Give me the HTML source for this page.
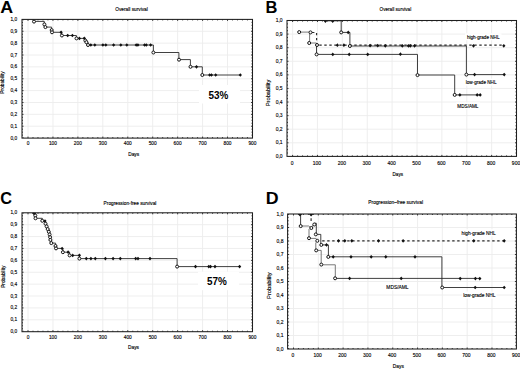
<!DOCTYPE html>
<html><head><meta charset="utf-8"><title>Survival curves</title>
<style>html,body{margin:0;padding:0;background:#fff;width:520px;height:370px;overflow:hidden}svg{display:block}text{font-family:"Liberation Sans",sans-serif}</style>
</head><body>
<svg width="520" height="370" viewBox="0 0 520 370" font-family='"Liberation Sans", sans-serif'><rect width="520" height="370" fill="#fff"/><path d="M22.00 126.23H252.50M22.00 114.36H252.50M22.00 102.49H252.50M22.00 90.62H252.50M22.00 78.75H252.50M22.00 66.88H252.50M22.00 55.01H252.50M22.00 43.14H252.50M22.00 31.27H252.50M28.00 19.40V138.10M52.94 19.40V138.10M77.88 19.40V138.10M102.82 19.40V138.10M127.76 19.40V138.10M152.70 19.40V138.10M177.64 19.40V138.10M202.58 19.40V138.10M227.52 19.40V138.10" stroke="#ececec" stroke-width="0.9" fill="none"/><rect x="199" y="85" width="41" height="18.5" fill="#fff"/><clipPath id="cA"><rect x="22" y="19.4" width="230.5" height="118.69999999999999"/></clipPath><g clip-path="url(#cA)"><path d="M34 21.4H44.3V24.4H45.3V27.1H51.6V30.1H52.0V32.3H61.6V35.5H76.4V38.4H85.3V40.6H86.4V42.2H88.0V45.0H153.4V52.5H178.9V59.6H190.4V66.8H202.3V75.0H240.3V75.0" stroke="#2a2a2a" stroke-width="0.9" fill="none" /><path d="M59.47 32.30L61.10 30.45L62.73 32.30L61.10 34.15Z" fill="#111"/><path d="M66.07 35.50L67.70 33.65L69.33 35.50L67.70 37.35Z" fill="#111"/><path d="M70.77 35.50L72.40 33.65L74.03 35.50L72.40 37.35Z" fill="#111"/><path d="M77.77 38.40L79.40 36.55L81.03 38.40L79.40 40.25Z" fill="#111"/><path d="M82.67 38.30L84.30 36.45L85.93 38.30L84.30 40.15Z" fill="#111"/><path d="M89.17 45.00L90.80 43.15L92.43 45.00L90.80 46.85Z" fill="#111"/><path d="M93.17 45.00L94.80 43.15L96.43 45.00L94.80 46.85Z" fill="#111"/><path d="M101.27 45.00L102.90 43.15L104.53 45.00L102.90 46.85Z" fill="#111"/><path d="M104.17 45.00L105.80 43.15L107.43 45.00L105.80 46.85Z" fill="#111"/><path d="M111.97 45.00L113.60 43.15L115.23 45.00L113.60 46.85Z" fill="#111"/><path d="M119.17 45.00L120.80 43.15L122.43 45.00L120.80 46.85Z" fill="#111"/><path d="M125.17 45.00L126.80 43.15L128.43 45.00L126.80 46.85Z" fill="#111"/><path d="M134.57 45.00L136.20 43.15L137.83 45.00L136.20 46.85Z" fill="#111"/><path d="M136.27 45.00L137.90 43.15L139.53 45.00L137.90 46.85Z" fill="#111"/><path d="M142.97 45.00L144.60 43.15L146.23 45.00L144.60 46.85Z" fill="#111"/><path d="M144.67 45.00L146.30 43.15L147.93 45.00L146.30 46.85Z" fill="#111"/><path d="M148.97 45.00L150.60 43.15L152.23 45.00L150.60 46.85Z" fill="#111"/><path d="M194.87 66.80L196.50 64.95L198.13 66.80L196.50 68.65Z" fill="#111"/><path d="M208.07 75.00L209.70 73.15L211.33 75.00L209.70 76.85Z" fill="#111"/><path d="M209.87 75.00L211.50 73.15L213.13 75.00L211.50 76.85Z" fill="#111"/><path d="M214.07 75.00L215.70 73.15L217.33 75.00L215.70 76.85Z" fill="#111"/><path d="M238.67 75.00L240.30 73.15L241.93 75.00L240.30 76.85Z" fill="#111"/><circle cx="34.00" cy="21.60" r="1.5" fill="#fff" stroke="#151515" stroke-width="1.0"/><circle cx="44.40" cy="24.40" r="1.5" fill="#fff" stroke="#151515" stroke-width="1.0"/><circle cx="45.40" cy="27.10" r="1.5" fill="#fff" stroke="#151515" stroke-width="1.0"/><circle cx="51.70" cy="30.10" r="1.5" fill="#fff" stroke="#151515" stroke-width="1.0"/><circle cx="52.00" cy="32.30" r="1.5" fill="#fff" stroke="#151515" stroke-width="1.0"/><circle cx="61.90" cy="35.50" r="1.5" fill="#fff" stroke="#151515" stroke-width="1.0"/><circle cx="76.50" cy="38.40" r="1.5" fill="#fff" stroke="#151515" stroke-width="1.0"/><circle cx="85.40" cy="40.60" r="1.5" fill="#fff" stroke="#151515" stroke-width="1.0"/><circle cx="86.40" cy="42.20" r="1.5" fill="#fff" stroke="#151515" stroke-width="1.0"/><circle cx="88.00" cy="45.00" r="1.5" fill="#fff" stroke="#151515" stroke-width="1.0"/><circle cx="153.40" cy="52.50" r="1.5" fill="#fff" stroke="#151515" stroke-width="1.0"/><circle cx="179.00" cy="59.70" r="1.5" fill="#fff" stroke="#151515" stroke-width="1.0"/><circle cx="190.50" cy="66.80" r="1.5" fill="#fff" stroke="#151515" stroke-width="1.0"/><circle cx="202.30" cy="75.00" r="1.5" fill="#fff" stroke="#151515" stroke-width="1.0"/></g><rect x="22.00" y="19.40" width="230.50" height="118.70" fill="none" stroke="#1e1e1e" stroke-width="1.05"/><path d="M23.01 138.10v-1.00M23.01 19.40v1.00M28.00 138.10v-1.50M28.00 19.40v1.50M32.99 138.10v-1.00M32.99 19.40v1.00M37.98 138.10v-1.00M37.98 19.40v1.00M42.96 138.10v-1.00M42.96 19.40v1.00M47.95 138.10v-1.00M47.95 19.40v1.00M52.94 138.10v-1.50M52.94 19.40v1.50M57.93 138.10v-1.00M57.93 19.40v1.00M62.92 138.10v-1.00M62.92 19.40v1.00M67.90 138.10v-1.00M67.90 19.40v1.00M72.89 138.10v-1.00M72.89 19.40v1.00M77.88 138.10v-1.50M77.88 19.40v1.50M82.87 138.10v-1.00M82.87 19.40v1.00M87.86 138.10v-1.00M87.86 19.40v1.00M92.84 138.10v-1.00M92.84 19.40v1.00M97.83 138.10v-1.00M97.83 19.40v1.00M102.82 138.10v-1.50M102.82 19.40v1.50M107.81 138.10v-1.00M107.81 19.40v1.00M112.80 138.10v-1.00M112.80 19.40v1.00M117.78 138.10v-1.00M117.78 19.40v1.00M122.77 138.10v-1.00M122.77 19.40v1.00M127.76 138.10v-1.50M127.76 19.40v1.50M132.75 138.10v-1.00M132.75 19.40v1.00M137.74 138.10v-1.00M137.74 19.40v1.00M142.72 138.10v-1.00M142.72 19.40v1.00M147.71 138.10v-1.00M147.71 19.40v1.00M152.70 138.10v-1.50M152.70 19.40v1.50M157.69 138.10v-1.00M157.69 19.40v1.00M162.68 138.10v-1.00M162.68 19.40v1.00M167.66 138.10v-1.00M167.66 19.40v1.00M172.65 138.10v-1.00M172.65 19.40v1.00M177.64 138.10v-1.50M177.64 19.40v1.50M182.63 138.10v-1.00M182.63 19.40v1.00M187.62 138.10v-1.00M187.62 19.40v1.00M192.60 138.10v-1.00M192.60 19.40v1.00M197.59 138.10v-1.00M197.59 19.40v1.00M202.58 138.10v-1.50M202.58 19.40v1.50M207.57 138.10v-1.00M207.57 19.40v1.00M212.56 138.10v-1.00M212.56 19.40v1.00M217.54 138.10v-1.00M217.54 19.40v1.00M222.53 138.10v-1.00M222.53 19.40v1.00M227.52 138.10v-1.50M227.52 19.40v1.50M232.51 138.10v-1.00M232.51 19.40v1.00M237.50 138.10v-1.00M237.50 19.40v1.00M242.48 138.10v-1.00M242.48 19.40v1.00M247.47 138.10v-1.00M247.47 19.40v1.00M22.00 135.13h1.00M252.50 135.13h-1.00M22.00 132.16h1.00M252.50 132.16h-1.00M22.00 129.20h1.00M252.50 129.20h-1.00M22.00 126.23h1.50M252.50 126.23h-1.50M22.00 123.26h1.00M252.50 123.26h-1.00M22.00 120.30h1.00M252.50 120.30h-1.00M22.00 117.33h1.00M252.50 117.33h-1.00M22.00 114.36h1.50M252.50 114.36h-1.50M22.00 111.39h1.00M252.50 111.39h-1.00M22.00 108.42h1.00M252.50 108.42h-1.00M22.00 105.46h1.00M252.50 105.46h-1.00M22.00 102.49h1.50M252.50 102.49h-1.50M22.00 99.52h1.00M252.50 99.52h-1.00M22.00 96.56h1.00M252.50 96.56h-1.00M22.00 93.59h1.00M252.50 93.59h-1.00M22.00 90.62h1.50M252.50 90.62h-1.50M22.00 87.65h1.00M252.50 87.65h-1.00M22.00 84.69h1.00M252.50 84.69h-1.00M22.00 81.72h1.00M252.50 81.72h-1.00M22.00 78.75h1.50M252.50 78.75h-1.50M22.00 75.78h1.00M252.50 75.78h-1.00M22.00 72.81h1.00M252.50 72.81h-1.00M22.00 69.85h1.00M252.50 69.85h-1.00M22.00 66.88h1.50M252.50 66.88h-1.50M22.00 63.91h1.00M252.50 63.91h-1.00M22.00 60.94h1.00M252.50 60.94h-1.00M22.00 57.98h1.00M252.50 57.98h-1.00M22.00 55.01h1.50M252.50 55.01h-1.50M22.00 52.04h1.00M252.50 52.04h-1.00M22.00 49.08h1.00M252.50 49.08h-1.00M22.00 46.11h1.00M252.50 46.11h-1.00M22.00 43.14h1.50M252.50 43.14h-1.50M22.00 40.17h1.00M252.50 40.17h-1.00M22.00 37.21h1.00M252.50 37.21h-1.00M22.00 34.24h1.00M252.50 34.24h-1.00M22.00 31.27h1.50M252.50 31.27h-1.50M22.00 28.30h1.00M252.50 28.30h-1.00M22.00 25.34h1.00M252.50 25.34h-1.00M22.00 22.37h1.00M252.50 22.37h-1.00" stroke="#222" stroke-width="0.9" fill="none"/><text transform="translate(17.10,139.59) scale(0.86,1)" font-size="5.6" text-anchor="end" font-weight="normal" fill="#000" stroke="#000" stroke-width="0.14">0,0</text><text transform="translate(17.10,127.72) scale(0.86,1)" font-size="5.6" text-anchor="end" font-weight="normal" fill="#000" stroke="#000" stroke-width="0.14">0,1</text><text transform="translate(17.10,115.85) scale(0.86,1)" font-size="5.6" text-anchor="end" font-weight="normal" fill="#000" stroke="#000" stroke-width="0.14">0,2</text><text transform="translate(17.10,103.98) scale(0.86,1)" font-size="5.6" text-anchor="end" font-weight="normal" fill="#000" stroke="#000" stroke-width="0.14">0,3</text><text transform="translate(17.10,92.11) scale(0.86,1)" font-size="5.6" text-anchor="end" font-weight="normal" fill="#000" stroke="#000" stroke-width="0.14">0,4</text><text transform="translate(17.10,80.24) scale(0.86,1)" font-size="5.6" text-anchor="end" font-weight="normal" fill="#000" stroke="#000" stroke-width="0.14">0,5</text><text transform="translate(17.10,68.37) scale(0.86,1)" font-size="5.6" text-anchor="end" font-weight="normal" fill="#000" stroke="#000" stroke-width="0.14">0,6</text><text transform="translate(17.10,56.50) scale(0.86,1)" font-size="5.6" text-anchor="end" font-weight="normal" fill="#000" stroke="#000" stroke-width="0.14">0,7</text><text transform="translate(17.10,44.63) scale(0.86,1)" font-size="5.6" text-anchor="end" font-weight="normal" fill="#000" stroke="#000" stroke-width="0.14">0,8</text><text transform="translate(17.10,32.76) scale(0.86,1)" font-size="5.6" text-anchor="end" font-weight="normal" fill="#000" stroke="#000" stroke-width="0.14">0,9</text><text transform="translate(17.10,20.89) scale(0.86,1)" font-size="5.6" text-anchor="end" font-weight="normal" fill="#000" stroke="#000" stroke-width="0.14">1,0</text><text transform="translate(28.00,145.39) scale(0.86,1)" font-size="5.6" text-anchor="middle" font-weight="normal" fill="#000" stroke="#000" stroke-width="0.14">0</text><text transform="translate(52.94,145.39) scale(0.86,1)" font-size="5.6" text-anchor="middle" font-weight="normal" fill="#000" stroke="#000" stroke-width="0.14">100</text><text transform="translate(77.88,145.39) scale(0.86,1)" font-size="5.6" text-anchor="middle" font-weight="normal" fill="#000" stroke="#000" stroke-width="0.14">200</text><text transform="translate(102.82,145.39) scale(0.86,1)" font-size="5.6" text-anchor="middle" font-weight="normal" fill="#000" stroke="#000" stroke-width="0.14">300</text><text transform="translate(127.76,145.39) scale(0.86,1)" font-size="5.6" text-anchor="middle" font-weight="normal" fill="#000" stroke="#000" stroke-width="0.14">400</text><text transform="translate(152.70,145.39) scale(0.86,1)" font-size="5.6" text-anchor="middle" font-weight="normal" fill="#000" stroke="#000" stroke-width="0.14">500</text><text transform="translate(177.64,145.39) scale(0.86,1)" font-size="5.6" text-anchor="middle" font-weight="normal" fill="#000" stroke="#000" stroke-width="0.14">600</text><text transform="translate(202.58,145.39) scale(0.86,1)" font-size="5.6" text-anchor="middle" font-weight="normal" fill="#000" stroke="#000" stroke-width="0.14">700</text><text transform="translate(227.52,145.39) scale(0.86,1)" font-size="5.6" text-anchor="middle" font-weight="normal" fill="#000" stroke="#000" stroke-width="0.14">800</text><text transform="translate(252.46,145.39) scale(0.86,1)" font-size="5.6" text-anchor="middle" font-weight="normal" fill="#000" stroke="#000" stroke-width="0.14">900</text><text transform="translate(133.70,155.95) scale(0.92,1)" font-size="5.2" text-anchor="middle" font-weight="normal" fill="#000" stroke="#000" stroke-width="0.14">Days</text><text transform="translate(2.40,82.50) rotate(-90) scale(0.92,1)" x="0" y="1.85" font-size="5.2" text-anchor="middle" fill="#000" stroke="#000" stroke-width="0.14">Probability</text><text transform="translate(131.50,10.85) scale(0.92,1)" font-size="5.2" text-anchor="middle" font-weight="normal" fill="#000" stroke="#000" stroke-width="0.14">Overall survival</text><text transform="translate(0.2,13.2) scale(1.06,1)" font-size="16.8" font-weight="bold" fill="#000">A</text><text transform="translate(218.40,98.63) scale(0.92,1)" font-size="10.8" text-anchor="middle" font-weight="bold" fill="#000" >53%</text><path d="M287.00 142.81H516.50M287.00 129.22H516.50M287.00 115.63H516.50M287.00 102.04H516.50M287.00 88.45H516.50M287.00 74.86H516.50M287.00 61.27H516.50M287.00 47.68H516.50M287.00 34.09H516.50M292.60 20.50V156.40M317.48 20.50V156.40M342.36 20.50V156.40M367.24 20.50V156.40M392.12 20.50V156.40M417.00 20.50V156.40M441.88 20.50V156.40M466.76 20.50V156.40M491.64 20.50V156.40" stroke="#ececec" stroke-width="0.9" fill="none"/><rect x="465" y="33.3" width="36.5" height="7" fill="#fff"/><rect x="464" y="78.6" width="34.5" height="7" fill="#fff"/><rect x="456" y="102.4" width="24" height="6.8" fill="#fff"/><clipPath id="cB"><rect x="287" y="20.5" width="229.5" height="135.9"/></clipPath><g clip-path="url(#cB)"><path d="M312.0 32.5H316.6V45.2H503.8" stroke="#2a2a2a" stroke-width="1.2" fill="none" stroke-dasharray="2.4 2.6"/><path d="M325.4 20.8H341.2V32.4H349.9V46.0H466.4V74.6H504.9" stroke="#2a2a2a" stroke-width="0.9" fill="none" /><path d="M316.5 45.5V54.4H417.5V75.0H454.7V94.9H480.6" stroke="#2a2a2a" stroke-width="0.9" fill="none" /><path d="M299.2 32.1H309.6V43.0H316.5V45.5" stroke="#6a6a6a" stroke-width="0.9" fill="none" /><path d="M335.77 45.20L337.40 43.35L339.03 45.20L337.40 47.05Z" fill="#111"/><path d="M342.27 45.20L343.90 43.35L345.53 45.20L343.90 47.05Z" fill="#111"/><path d="M368.47 45.60L370.10 43.75L371.73 45.60L370.10 47.45Z" fill="#111"/><path d="M376.07 45.60L377.70 43.75L379.33 45.60L377.70 47.45Z" fill="#111"/><path d="M383.67 45.80L385.30 43.95L386.93 45.80L385.30 47.65Z" fill="#111"/><path d="M400.67 45.80L402.30 43.95L403.93 45.80L402.30 47.65Z" fill="#111"/><path d="M406.77 45.80L408.40 43.95L410.03 45.80L408.40 47.65Z" fill="#111"/><path d="M408.67 45.80L410.30 43.95L411.93 45.80L410.30 47.65Z" fill="#111"/><path d="M412.97 45.80L414.60 43.95L416.23 45.80L414.60 47.65Z" fill="#111"/><path d="M471.87 45.80L473.50 43.95L475.13 45.80L473.50 47.65Z" fill="#111"/><path d="M502.17 45.80L503.80 43.95L505.43 45.80L503.80 47.65Z" fill="#111"/><circle cx="310.50" cy="32.40" r="1.5" fill="#fff" stroke="#151515" stroke-width="1.0"/><circle cx="317.00" cy="45.00" r="1.5" fill="#fff" stroke="#151515" stroke-width="1.0"/><path d="M323.38 20.60L325.40 18.30L327.42 20.60L325.40 22.90Z" fill="#111"/><path d="M330.68 20.60L332.70 18.30L334.72 20.60L332.70 22.90Z" fill="#111"/><path d="M346.57 32.40L348.20 30.55L349.83 32.40L348.20 34.25Z" fill="#111"/><path d="M472.97 74.60L474.60 72.75L476.23 74.60L474.60 76.45Z" fill="#111"/><path d="M502.57 74.60L504.20 72.75L505.83 74.60L504.20 76.45Z" fill="#111"/><circle cx="341.20" cy="32.40" r="1.5" fill="#fff" stroke="#151515" stroke-width="1.0"/><circle cx="349.90" cy="46.00" r="1.5" fill="#fff" stroke="#151515" stroke-width="1.0"/><circle cx="466.40" cy="74.60" r="1.5" fill="#fff" stroke="#151515" stroke-width="1.0"/><path d="M331.17 54.40L332.80 52.55L334.43 54.40L332.80 56.25Z" fill="#111"/><path d="M347.57 54.40L349.20 52.55L350.83 54.40L349.20 56.25Z" fill="#111"/><path d="M366.07 54.40L367.70 52.55L369.33 54.40L367.70 56.25Z" fill="#111"/><path d="M398.77 54.20L400.40 52.35L402.03 54.20L400.40 56.05Z" fill="#111"/><path d="M458.27 94.90L459.90 93.05L461.53 94.90L459.90 96.75Z" fill="#111"/><path d="M475.57 94.90L477.20 93.05L478.83 94.90L477.20 96.75Z" fill="#111"/><path d="M478.57 94.90L480.20 93.05L481.83 94.90L480.20 96.75Z" fill="#111"/><circle cx="299.20" cy="32.10" r="1.5" fill="#fff" stroke="#151515" stroke-width="1.0"/><circle cx="309.20" cy="43.00" r="1.5" fill="#fff" stroke="#151515" stroke-width="1.0"/><circle cx="316.60" cy="54.40" r="1.5" fill="#fff" stroke="#151515" stroke-width="1.0"/><circle cx="417.50" cy="75.10" r="1.5" fill="#fff" stroke="#151515" stroke-width="1.0"/><circle cx="454.70" cy="94.90" r="1.5" fill="#fff" stroke="#151515" stroke-width="1.0"/></g><rect x="287.00" y="20.50" width="229.50" height="135.90" fill="none" stroke="#1e1e1e" stroke-width="1.05"/><path d="M292.60 156.40v-1.50M292.60 20.50v1.50M297.58 156.40v-1.00M297.58 20.50v1.00M302.55 156.40v-1.00M302.55 20.50v1.00M307.53 156.40v-1.00M307.53 20.50v1.00M312.50 156.40v-1.00M312.50 20.50v1.00M317.48 156.40v-1.50M317.48 20.50v1.50M322.46 156.40v-1.00M322.46 20.50v1.00M327.43 156.40v-1.00M327.43 20.50v1.00M332.41 156.40v-1.00M332.41 20.50v1.00M337.38 156.40v-1.00M337.38 20.50v1.00M342.36 156.40v-1.50M342.36 20.50v1.50M347.34 156.40v-1.00M347.34 20.50v1.00M352.31 156.40v-1.00M352.31 20.50v1.00M357.29 156.40v-1.00M357.29 20.50v1.00M362.26 156.40v-1.00M362.26 20.50v1.00M367.24 156.40v-1.50M367.24 20.50v1.50M372.22 156.40v-1.00M372.22 20.50v1.00M377.19 156.40v-1.00M377.19 20.50v1.00M382.17 156.40v-1.00M382.17 20.50v1.00M387.14 156.40v-1.00M387.14 20.50v1.00M392.12 156.40v-1.50M392.12 20.50v1.50M397.10 156.40v-1.00M397.10 20.50v1.00M402.07 156.40v-1.00M402.07 20.50v1.00M407.05 156.40v-1.00M407.05 20.50v1.00M412.02 156.40v-1.00M412.02 20.50v1.00M417.00 156.40v-1.50M417.00 20.50v1.50M421.98 156.40v-1.00M421.98 20.50v1.00M426.95 156.40v-1.00M426.95 20.50v1.00M431.93 156.40v-1.00M431.93 20.50v1.00M436.90 156.40v-1.00M436.90 20.50v1.00M441.88 156.40v-1.50M441.88 20.50v1.50M446.86 156.40v-1.00M446.86 20.50v1.00M451.83 156.40v-1.00M451.83 20.50v1.00M456.81 156.40v-1.00M456.81 20.50v1.00M461.78 156.40v-1.00M461.78 20.50v1.00M466.76 156.40v-1.50M466.76 20.50v1.50M471.74 156.40v-1.00M471.74 20.50v1.00M476.71 156.40v-1.00M476.71 20.50v1.00M481.69 156.40v-1.00M481.69 20.50v1.00M486.66 156.40v-1.00M486.66 20.50v1.00M491.64 156.40v-1.50M491.64 20.50v1.50M496.62 156.40v-1.00M496.62 20.50v1.00M501.59 156.40v-1.00M501.59 20.50v1.00M506.57 156.40v-1.00M506.57 20.50v1.00M511.54 156.40v-1.00M511.54 20.50v1.00M287.00 153.00h1.00M516.50 153.00h-1.00M287.00 149.61h1.00M516.50 149.61h-1.00M287.00 146.21h1.00M516.50 146.21h-1.00M287.00 142.81h1.50M516.50 142.81h-1.50M287.00 139.41h1.00M516.50 139.41h-1.00M287.00 136.02h1.00M516.50 136.02h-1.00M287.00 132.62h1.00M516.50 132.62h-1.00M287.00 129.22h1.50M516.50 129.22h-1.50M287.00 125.82h1.00M516.50 125.82h-1.00M287.00 122.43h1.00M516.50 122.43h-1.00M287.00 119.03h1.00M516.50 119.03h-1.00M287.00 115.63h1.50M516.50 115.63h-1.50M287.00 112.23h1.00M516.50 112.23h-1.00M287.00 108.84h1.00M516.50 108.84h-1.00M287.00 105.44h1.00M516.50 105.44h-1.00M287.00 102.04h1.50M516.50 102.04h-1.50M287.00 98.64h1.00M516.50 98.64h-1.00M287.00 95.25h1.00M516.50 95.25h-1.00M287.00 91.85h1.00M516.50 91.85h-1.00M287.00 88.45h1.50M516.50 88.45h-1.50M287.00 85.05h1.00M516.50 85.05h-1.00M287.00 81.66h1.00M516.50 81.66h-1.00M287.00 78.26h1.00M516.50 78.26h-1.00M287.00 74.86h1.50M516.50 74.86h-1.50M287.00 71.46h1.00M516.50 71.46h-1.00M287.00 68.06h1.00M516.50 68.06h-1.00M287.00 64.67h1.00M516.50 64.67h-1.00M287.00 61.27h1.50M516.50 61.27h-1.50M287.00 57.87h1.00M516.50 57.87h-1.00M287.00 54.47h1.00M516.50 54.47h-1.00M287.00 51.08h1.00M516.50 51.08h-1.00M287.00 47.68h1.50M516.50 47.68h-1.50M287.00 44.28h1.00M516.50 44.28h-1.00M287.00 40.89h1.00M516.50 40.89h-1.00M287.00 37.49h1.00M516.50 37.49h-1.00M287.00 34.09h1.50M516.50 34.09h-1.50M287.00 30.69h1.00M516.50 30.69h-1.00M287.00 27.30h1.00M516.50 27.30h-1.00M287.00 23.90h1.00M516.50 23.90h-1.00" stroke="#222" stroke-width="0.9" fill="none"/><text transform="translate(282.60,157.96) scale(0.86,1)" font-size="5.8" text-anchor="end" font-weight="normal" fill="#000" stroke="#000" stroke-width="0.14">0,0</text><text transform="translate(282.60,144.37) scale(0.86,1)" font-size="5.8" text-anchor="end" font-weight="normal" fill="#000" stroke="#000" stroke-width="0.14">0,1</text><text transform="translate(282.60,130.78) scale(0.86,1)" font-size="5.8" text-anchor="end" font-weight="normal" fill="#000" stroke="#000" stroke-width="0.14">0,2</text><text transform="translate(282.60,117.19) scale(0.86,1)" font-size="5.8" text-anchor="end" font-weight="normal" fill="#000" stroke="#000" stroke-width="0.14">0,3</text><text transform="translate(282.60,103.60) scale(0.86,1)" font-size="5.8" text-anchor="end" font-weight="normal" fill="#000" stroke="#000" stroke-width="0.14">0,4</text><text transform="translate(282.60,90.01) scale(0.86,1)" font-size="5.8" text-anchor="end" font-weight="normal" fill="#000" stroke="#000" stroke-width="0.14">0,5</text><text transform="translate(282.60,76.42) scale(0.86,1)" font-size="5.8" text-anchor="end" font-weight="normal" fill="#000" stroke="#000" stroke-width="0.14">0,6</text><text transform="translate(282.60,62.83) scale(0.86,1)" font-size="5.8" text-anchor="end" font-weight="normal" fill="#000" stroke="#000" stroke-width="0.14">0,7</text><text transform="translate(282.60,49.24) scale(0.86,1)" font-size="5.8" text-anchor="end" font-weight="normal" fill="#000" stroke="#000" stroke-width="0.14">0,8</text><text transform="translate(282.60,35.65) scale(0.86,1)" font-size="5.8" text-anchor="end" font-weight="normal" fill="#000" stroke="#000" stroke-width="0.14">0,9</text><text transform="translate(282.60,22.06) scale(0.86,1)" font-size="5.8" text-anchor="end" font-weight="normal" fill="#000" stroke="#000" stroke-width="0.14">1,0</text><text transform="translate(292.10,164.96) scale(0.86,1)" font-size="5.8" text-anchor="middle" font-weight="normal" fill="#000" stroke="#000" stroke-width="0.14">0</text><text transform="translate(316.98,164.96) scale(0.86,1)" font-size="5.8" text-anchor="middle" font-weight="normal" fill="#000" stroke="#000" stroke-width="0.14">100</text><text transform="translate(341.86,164.96) scale(0.86,1)" font-size="5.8" text-anchor="middle" font-weight="normal" fill="#000" stroke="#000" stroke-width="0.14">200</text><text transform="translate(366.74,164.96) scale(0.86,1)" font-size="5.8" text-anchor="middle" font-weight="normal" fill="#000" stroke="#000" stroke-width="0.14">300</text><text transform="translate(391.62,164.96) scale(0.86,1)" font-size="5.8" text-anchor="middle" font-weight="normal" fill="#000" stroke="#000" stroke-width="0.14">400</text><text transform="translate(416.50,164.96) scale(0.86,1)" font-size="5.8" text-anchor="middle" font-weight="normal" fill="#000" stroke="#000" stroke-width="0.14">500</text><text transform="translate(441.38,164.96) scale(0.86,1)" font-size="5.8" text-anchor="middle" font-weight="normal" fill="#000" stroke="#000" stroke-width="0.14">600</text><text transform="translate(466.26,164.96) scale(0.86,1)" font-size="5.8" text-anchor="middle" font-weight="normal" fill="#000" stroke="#000" stroke-width="0.14">700</text><text transform="translate(491.14,164.96) scale(0.86,1)" font-size="5.8" text-anchor="middle" font-weight="normal" fill="#000" stroke="#000" stroke-width="0.14">800</text><text transform="translate(516.02,164.96) scale(0.86,1)" font-size="5.8" text-anchor="middle" font-weight="normal" fill="#000" stroke="#000" stroke-width="0.14">900</text><text transform="translate(397.80,176.42) scale(0.86,1)" font-size="5.4" text-anchor="middle" font-weight="normal" fill="#000" stroke="#000" stroke-width="0.14">Days</text><text transform="translate(267.80,92.90) rotate(-90) scale(1.0,1)" x="0" y="2.02" font-size="5.7" text-anchor="middle" fill="#000" stroke="#000" stroke-width="0.14">Probability</text><text transform="translate(395.40,10.82) scale(0.86,1)" font-size="5.4" text-anchor="middle" font-weight="normal" fill="#000" stroke="#000" stroke-width="0.14">Overall survival</text><text transform="translate(265.4,13.2) scale(0.98,1)" font-size="16.8" font-weight="bold" fill="#000">B</text><text transform="translate(483.20,38.82) scale(0.86,1)" font-size="5.4" text-anchor="middle" font-weight="normal" fill="#000" stroke="#000" stroke-width="0.14">high-grade NHL</text><text transform="translate(481.10,83.82) scale(0.86,1)" font-size="5.4" text-anchor="middle" font-weight="normal" fill="#000" stroke="#000" stroke-width="0.14">low-grade NHL</text><text transform="translate(467.90,108.22) scale(0.86,1)" font-size="5.4" text-anchor="middle" font-weight="normal" fill="#000" stroke="#000" stroke-width="0.14">MDS/AML</text><path d="M22.00 319.81H252.50M22.00 307.92H252.50M22.00 296.03H252.50M22.00 284.14H252.50M22.00 272.25H252.50M22.00 260.36H252.50M22.00 248.47H252.50M22.00 236.58H252.50M22.00 224.69H252.50M28.00 212.80V331.70M52.94 212.80V331.70M77.88 212.80V331.70M102.82 212.80V331.70M127.76 212.80V331.70M152.70 212.80V331.70M177.64 212.80V331.70M202.58 212.80V331.70M227.52 212.80V331.70" stroke="#ececec" stroke-width="0.9" fill="none"/><rect x="198" y="271.7" width="41" height="18.5" fill="#fff"/><clipPath id="cC"><rect x="22" y="212.8" width="230.5" height="118.89999999999998"/></clipPath><g clip-path="url(#cC)"><path d="M34.2 213.4H35.3V215.6H35.5V218.3H42.3V220.8H45.5V223.7H46.6V226.4H47.7V229.1H48.8V231.8H49.6V234.5H50.1V237.2H50.4V239.9H51.3V243.1H55.6V246.0H56.0V248.4H62.9V252.2H69.6V255.4H79.4V258.6H177.1V266.6H239.6V266.6" stroke="#2a2a2a" stroke-width="0.9" fill="none" /><path d="M32.18 213.20L34.20 210.90L36.22 213.20L34.20 215.50Z" fill="#111"/><path d="M43.37 221.00L45.00 219.15L46.63 221.00L45.00 222.85Z" fill="#111"/><path d="M60.47 248.50L62.10 246.65L63.73 248.50L62.10 250.35Z" fill="#111"/><path d="M66.47 252.20L68.10 250.35L69.73 252.20L68.10 254.05Z" fill="#111"/><path d="M71.07 255.40L72.70 253.55L74.33 255.40L72.70 257.25Z" fill="#111"/><path d="M77.77 255.30L79.40 253.45L81.03 255.30L79.40 257.15Z" fill="#111"/><path d="M84.67 258.60L86.30 256.75L87.93 258.60L86.30 260.45Z" fill="#111"/><path d="M89.27 258.60L90.90 256.75L92.53 258.60L90.90 260.45Z" fill="#111"/><path d="M93.67 258.60L95.30 256.75L96.93 258.60L95.30 260.45Z" fill="#111"/><path d="M103.77 258.60L105.40 256.75L107.03 258.60L105.40 260.45Z" fill="#111"/><path d="M111.47 258.60L113.10 256.75L114.73 258.60L113.10 260.45Z" fill="#111"/><path d="M118.67 258.60L120.30 256.75L121.93 258.60L120.30 260.45Z" fill="#111"/><path d="M134.07 258.60L135.70 256.75L137.33 258.60L135.70 260.45Z" fill="#111"/><path d="M136.37 258.60L138.00 256.75L139.63 258.60L138.00 260.45Z" fill="#111"/><path d="M148.37 258.60L150.00 256.75L151.63 258.60L150.00 260.45Z" fill="#111"/><path d="M193.87 266.60L195.50 264.75L197.13 266.60L195.50 268.45Z" fill="#111"/><path d="M207.17 266.60L208.80 264.75L210.43 266.60L208.80 268.45Z" fill="#111"/><path d="M208.87 266.60L210.50 264.75L212.13 266.60L210.50 268.45Z" fill="#111"/><path d="M213.37 266.60L215.00 264.75L216.63 266.60L215.00 268.45Z" fill="#111"/><path d="M237.97 266.60L239.60 264.75L241.23 266.60L239.60 268.45Z" fill="#111"/><circle cx="35.30" cy="215.60" r="1.5" fill="#fff" stroke="#151515" stroke-width="1.0"/><circle cx="35.50" cy="218.30" r="1.5" fill="#fff" stroke="#151515" stroke-width="1.0"/><circle cx="42.30" cy="220.80" r="1.5" fill="#fff" stroke="#151515" stroke-width="1.0"/><circle cx="45.50" cy="223.70" r="1.5" fill="#fff" stroke="#151515" stroke-width="1.0"/><circle cx="46.60" cy="226.40" r="1.5" fill="#fff" stroke="#151515" stroke-width="1.0"/><circle cx="47.70" cy="229.10" r="1.5" fill="#fff" stroke="#151515" stroke-width="1.0"/><circle cx="48.80" cy="231.80" r="1.5" fill="#fff" stroke="#151515" stroke-width="1.0"/><circle cx="49.60" cy="234.50" r="1.5" fill="#fff" stroke="#151515" stroke-width="1.0"/><circle cx="50.10" cy="237.20" r="1.5" fill="#fff" stroke="#151515" stroke-width="1.0"/><circle cx="50.40" cy="239.90" r="1.5" fill="#fff" stroke="#151515" stroke-width="1.0"/><circle cx="51.30" cy="243.10" r="1.5" fill="#fff" stroke="#151515" stroke-width="1.0"/><circle cx="55.50" cy="246.00" r="1.5" fill="#fff" stroke="#151515" stroke-width="1.0"/><circle cx="56.00" cy="248.40" r="1.5" fill="#fff" stroke="#151515" stroke-width="1.0"/><circle cx="62.90" cy="252.20" r="1.5" fill="#fff" stroke="#151515" stroke-width="1.0"/><circle cx="69.60" cy="255.40" r="1.5" fill="#fff" stroke="#151515" stroke-width="1.0"/><circle cx="79.40" cy="258.60" r="1.5" fill="#fff" stroke="#151515" stroke-width="1.0"/><circle cx="177.10" cy="266.60" r="1.5" fill="#fff" stroke="#151515" stroke-width="1.0"/></g><rect x="22.00" y="212.80" width="230.50" height="118.90" fill="none" stroke="#1e1e1e" stroke-width="1.05"/><path d="M23.01 331.70v-1.00M23.01 212.80v1.00M28.00 331.70v-1.50M28.00 212.80v1.50M32.99 331.70v-1.00M32.99 212.80v1.00M37.98 331.70v-1.00M37.98 212.80v1.00M42.96 331.70v-1.00M42.96 212.80v1.00M47.95 331.70v-1.00M47.95 212.80v1.00M52.94 331.70v-1.50M52.94 212.80v1.50M57.93 331.70v-1.00M57.93 212.80v1.00M62.92 331.70v-1.00M62.92 212.80v1.00M67.90 331.70v-1.00M67.90 212.80v1.00M72.89 331.70v-1.00M72.89 212.80v1.00M77.88 331.70v-1.50M77.88 212.80v1.50M82.87 331.70v-1.00M82.87 212.80v1.00M87.86 331.70v-1.00M87.86 212.80v1.00M92.84 331.70v-1.00M92.84 212.80v1.00M97.83 331.70v-1.00M97.83 212.80v1.00M102.82 331.70v-1.50M102.82 212.80v1.50M107.81 331.70v-1.00M107.81 212.80v1.00M112.80 331.70v-1.00M112.80 212.80v1.00M117.78 331.70v-1.00M117.78 212.80v1.00M122.77 331.70v-1.00M122.77 212.80v1.00M127.76 331.70v-1.50M127.76 212.80v1.50M132.75 331.70v-1.00M132.75 212.80v1.00M137.74 331.70v-1.00M137.74 212.80v1.00M142.72 331.70v-1.00M142.72 212.80v1.00M147.71 331.70v-1.00M147.71 212.80v1.00M152.70 331.70v-1.50M152.70 212.80v1.50M157.69 331.70v-1.00M157.69 212.80v1.00M162.68 331.70v-1.00M162.68 212.80v1.00M167.66 331.70v-1.00M167.66 212.80v1.00M172.65 331.70v-1.00M172.65 212.80v1.00M177.64 331.70v-1.50M177.64 212.80v1.50M182.63 331.70v-1.00M182.63 212.80v1.00M187.62 331.70v-1.00M187.62 212.80v1.00M192.60 331.70v-1.00M192.60 212.80v1.00M197.59 331.70v-1.00M197.59 212.80v1.00M202.58 331.70v-1.50M202.58 212.80v1.50M207.57 331.70v-1.00M207.57 212.80v1.00M212.56 331.70v-1.00M212.56 212.80v1.00M217.54 331.70v-1.00M217.54 212.80v1.00M222.53 331.70v-1.00M222.53 212.80v1.00M227.52 331.70v-1.50M227.52 212.80v1.50M232.51 331.70v-1.00M232.51 212.80v1.00M237.50 331.70v-1.00M237.50 212.80v1.00M242.48 331.70v-1.00M242.48 212.80v1.00M247.47 331.70v-1.00M247.47 212.80v1.00M22.00 328.73h1.00M252.50 328.73h-1.00M22.00 325.75h1.00M252.50 325.75h-1.00M22.00 322.78h1.00M252.50 322.78h-1.00M22.00 319.81h1.50M252.50 319.81h-1.50M22.00 316.84h1.00M252.50 316.84h-1.00M22.00 313.87h1.00M252.50 313.87h-1.00M22.00 310.89h1.00M252.50 310.89h-1.00M22.00 307.92h1.50M252.50 307.92h-1.50M22.00 304.95h1.00M252.50 304.95h-1.00M22.00 301.98h1.00M252.50 301.98h-1.00M22.00 299.00h1.00M252.50 299.00h-1.00M22.00 296.03h1.50M252.50 296.03h-1.50M22.00 293.06h1.00M252.50 293.06h-1.00M22.00 290.08h1.00M252.50 290.08h-1.00M22.00 287.11h1.00M252.50 287.11h-1.00M22.00 284.14h1.50M252.50 284.14h-1.50M22.00 281.17h1.00M252.50 281.17h-1.00M22.00 278.19h1.00M252.50 278.19h-1.00M22.00 275.22h1.00M252.50 275.22h-1.00M22.00 272.25h1.50M252.50 272.25h-1.50M22.00 269.28h1.00M252.50 269.28h-1.00M22.00 266.31h1.00M252.50 266.31h-1.00M22.00 263.33h1.00M252.50 263.33h-1.00M22.00 260.36h1.50M252.50 260.36h-1.50M22.00 257.39h1.00M252.50 257.39h-1.00M22.00 254.42h1.00M252.50 254.42h-1.00M22.00 251.44h1.00M252.50 251.44h-1.00M22.00 248.47h1.50M252.50 248.47h-1.50M22.00 245.50h1.00M252.50 245.50h-1.00M22.00 242.53h1.00M252.50 242.53h-1.00M22.00 239.55h1.00M252.50 239.55h-1.00M22.00 236.58h1.50M252.50 236.58h-1.50M22.00 233.61h1.00M252.50 233.61h-1.00M22.00 230.63h1.00M252.50 230.63h-1.00M22.00 227.66h1.00M252.50 227.66h-1.00M22.00 224.69h1.50M252.50 224.69h-1.50M22.00 221.72h1.00M252.50 221.72h-1.00M22.00 218.75h1.00M252.50 218.75h-1.00M22.00 215.77h1.00M252.50 215.77h-1.00" stroke="#222" stroke-width="0.9" fill="none"/><text transform="translate(17.10,333.19) scale(0.86,1)" font-size="5.6" text-anchor="end" font-weight="normal" fill="#000" stroke="#000" stroke-width="0.14">0,0</text><text transform="translate(17.10,321.30) scale(0.86,1)" font-size="5.6" text-anchor="end" font-weight="normal" fill="#000" stroke="#000" stroke-width="0.14">0,1</text><text transform="translate(17.10,309.41) scale(0.86,1)" font-size="5.6" text-anchor="end" font-weight="normal" fill="#000" stroke="#000" stroke-width="0.14">0,2</text><text transform="translate(17.10,297.52) scale(0.86,1)" font-size="5.6" text-anchor="end" font-weight="normal" fill="#000" stroke="#000" stroke-width="0.14">0,3</text><text transform="translate(17.10,285.63) scale(0.86,1)" font-size="5.6" text-anchor="end" font-weight="normal" fill="#000" stroke="#000" stroke-width="0.14">0,4</text><text transform="translate(17.10,273.74) scale(0.86,1)" font-size="5.6" text-anchor="end" font-weight="normal" fill="#000" stroke="#000" stroke-width="0.14">0,5</text><text transform="translate(17.10,261.85) scale(0.86,1)" font-size="5.6" text-anchor="end" font-weight="normal" fill="#000" stroke="#000" stroke-width="0.14">0,6</text><text transform="translate(17.10,249.96) scale(0.86,1)" font-size="5.6" text-anchor="end" font-weight="normal" fill="#000" stroke="#000" stroke-width="0.14">0,7</text><text transform="translate(17.10,238.07) scale(0.86,1)" font-size="5.6" text-anchor="end" font-weight="normal" fill="#000" stroke="#000" stroke-width="0.14">0,8</text><text transform="translate(17.10,226.18) scale(0.86,1)" font-size="5.6" text-anchor="end" font-weight="normal" fill="#000" stroke="#000" stroke-width="0.14">0,9</text><text transform="translate(17.10,214.29) scale(0.86,1)" font-size="5.6" text-anchor="end" font-weight="normal" fill="#000" stroke="#000" stroke-width="0.14">1,0</text><text transform="translate(28.00,339.09) scale(0.86,1)" font-size="5.6" text-anchor="middle" font-weight="normal" fill="#000" stroke="#000" stroke-width="0.14">0</text><text transform="translate(52.94,339.09) scale(0.86,1)" font-size="5.6" text-anchor="middle" font-weight="normal" fill="#000" stroke="#000" stroke-width="0.14">100</text><text transform="translate(77.88,339.09) scale(0.86,1)" font-size="5.6" text-anchor="middle" font-weight="normal" fill="#000" stroke="#000" stroke-width="0.14">200</text><text transform="translate(102.82,339.09) scale(0.86,1)" font-size="5.6" text-anchor="middle" font-weight="normal" fill="#000" stroke="#000" stroke-width="0.14">300</text><text transform="translate(127.76,339.09) scale(0.86,1)" font-size="5.6" text-anchor="middle" font-weight="normal" fill="#000" stroke="#000" stroke-width="0.14">400</text><text transform="translate(152.70,339.09) scale(0.86,1)" font-size="5.6" text-anchor="middle" font-weight="normal" fill="#000" stroke="#000" stroke-width="0.14">500</text><text transform="translate(177.64,339.09) scale(0.86,1)" font-size="5.6" text-anchor="middle" font-weight="normal" fill="#000" stroke="#000" stroke-width="0.14">600</text><text transform="translate(202.58,339.09) scale(0.86,1)" font-size="5.6" text-anchor="middle" font-weight="normal" fill="#000" stroke="#000" stroke-width="0.14">700</text><text transform="translate(227.52,339.09) scale(0.86,1)" font-size="5.6" text-anchor="middle" font-weight="normal" fill="#000" stroke="#000" stroke-width="0.14">800</text><text transform="translate(252.46,339.09) scale(0.86,1)" font-size="5.6" text-anchor="middle" font-weight="normal" fill="#000" stroke="#000" stroke-width="0.14">900</text><text transform="translate(133.50,349.45) scale(0.92,1)" font-size="5.2" text-anchor="middle" font-weight="normal" fill="#000" stroke="#000" stroke-width="0.14">Days</text><text transform="translate(3.00,276.70) rotate(-90) scale(0.92,1)" x="0" y="1.85" font-size="5.2" text-anchor="middle" fill="#000" stroke="#000" stroke-width="0.14">Probability</text><text transform="translate(130.00,204.55) scale(0.92,1)" font-size="5.2" text-anchor="middle" font-weight="normal" fill="#000" stroke="#000" stroke-width="0.14">Progression-free survival</text><text transform="translate(0.3,204.3) scale(0.97,1)" font-size="16.8" font-weight="bold" fill="#000">C</text><text transform="translate(216.80,285.03) scale(0.92,1)" font-size="10.8" text-anchor="middle" font-weight="bold" fill="#000" >57%</text><path d="M287.60 335.50H516.40M287.60 322.00H516.40M287.60 308.50H516.40M287.60 295.00H516.40M287.60 281.50H516.40M287.60 268.00H516.40M287.60 254.50H516.40M287.60 241.00H516.40M287.60 227.50H516.40M293.50 214.00V349.00M318.31 214.00V349.00M343.12 214.00V349.00M367.93 214.00V349.00M392.74 214.00V349.00M417.55 214.00V349.00M442.36 214.00V349.00M467.17 214.00V349.00M491.98 214.00V349.00" stroke="#ececec" stroke-width="0.9" fill="none"/><rect x="461" y="229.3" width="35.5" height="7" fill="#fff"/><rect x="462" y="291.6" width="34.5" height="7" fill="#fff"/><rect x="386" y="283.6" width="23.5" height="6.8" fill="#fff"/><clipPath id="cD"><rect x="287.6" y="214" width="228.79999999999995" height="135"/></clipPath><g clip-path="url(#cD)"><path d="M322.2 240.8H504.8" stroke="#2a2a2a" stroke-width="1.2" fill="none" stroke-dasharray="2.4 2.6"/><path d="M311.1 218.2V221.0" stroke="#222" stroke-width="1.1" fill="none" /><path d="M300.6 214.3V226.0M312.2 226.6L313.8 224.6M314.3 223.2H316.3V234.4H320.8V244.9H328.4V256.8H441.9V287.5H504.8" stroke="#2a2a2a" stroke-width="0.9" fill="none" /><path d="M300.6 226.0H308.7L311.3 228M309.0 229V238.4H316.5M315.8 242.5V250.4H321.2V264.8H335.3V278.4" stroke="#6a6a6a" stroke-width="0.9" fill="none" /><path d="M335.3 278.4H480.2" stroke="#2a2a2a" stroke-width="0.9" fill="none" /><path d="M309.08 214.30L311.10 212.00L313.12 214.30L311.10 216.60Z" fill="#111"/><path d="M336.87 240.80L338.50 238.95L340.13 240.80L338.50 242.65Z" fill="#111"/><path d="M343.17 240.80L344.80 238.95L346.43 240.80L344.80 242.65Z" fill="#111"/><path d="M350.17 240.80L351.80 238.95L353.43 240.80L351.80 242.65Z" fill="#111"/><path d="M376.87 240.80L378.50 238.95L380.13 240.80L378.50 242.65Z" fill="#111"/><path d="M401.47 240.80L403.10 238.95L404.73 240.80L403.10 242.65Z" fill="#111"/><path d="M472.17 240.80L473.80 238.95L475.43 240.80L473.80 242.65Z" fill="#111"/><path d="M502.57 240.80L504.20 238.95L505.83 240.80L504.20 242.65Z" fill="#111"/><path d="M297.98 214.30L300.00 212.00L302.02 214.30L300.00 216.60Z" fill="#111"/><path d="M324.87 244.90L326.50 243.05L328.13 244.90L326.50 246.75Z" fill="#111"/><path d="M331.57 256.80L333.20 254.95L334.83 256.80L333.20 258.65Z" fill="#111"/><path d="M349.37 256.80L351.00 254.95L352.63 256.80L351.00 258.65Z" fill="#111"/><path d="M369.57 256.80L371.20 254.95L372.83 256.80L371.20 258.65Z" fill="#111"/><path d="M384.17 256.80L385.80 254.95L387.43 256.80L385.80 258.65Z" fill="#111"/><path d="M413.37 256.80L415.00 254.95L416.63 256.80L415.00 258.65Z" fill="#111"/><path d="M473.57 287.50L475.20 285.65L476.83 287.50L475.20 289.35Z" fill="#111"/><path d="M502.57 287.50L504.20 285.65L505.83 287.50L504.20 289.35Z" fill="#111"/><circle cx="300.70" cy="226.10" r="1.5" fill="#fff" stroke="#151515" stroke-width="1.0"/><circle cx="311.30" cy="228.00" r="1.5" fill="#fff" stroke="#151515" stroke-width="1.0"/><circle cx="314.30" cy="224.50" r="1.5" fill="#fff" stroke="#151515" stroke-width="1.0"/><circle cx="315.80" cy="234.40" r="1.5" fill="#fff" stroke="#151515" stroke-width="1.0"/><circle cx="309.00" cy="238.20" r="1.5" fill="#fff" stroke="#151515" stroke-width="1.0"/><circle cx="317.30" cy="240.80" r="1.5" fill="#fff" stroke="#151515" stroke-width="1.0"/><circle cx="321.30" cy="244.90" r="1.5" fill="#fff" stroke="#151515" stroke-width="1.0"/><circle cx="328.30" cy="256.90" r="1.5" fill="#fff" stroke="#151515" stroke-width="1.0"/><circle cx="316.20" cy="250.40" r="1.5" fill="#fff" stroke="#151515" stroke-width="1.0"/><circle cx="321.30" cy="264.60" r="1.5" fill="#fff" stroke="#151515" stroke-width="1.0"/><circle cx="335.10" cy="278.30" r="1.5" fill="#fff" stroke="#151515" stroke-width="1.0"/><circle cx="442.20" cy="287.50" r="1.5" fill="#fff" stroke="#151515" stroke-width="1.0"/><path d="M347.97 278.40L349.60 276.55L351.23 278.40L349.60 280.25Z" fill="#111"/><path d="M399.57 278.40L401.20 276.55L402.83 278.40L401.20 280.25Z" fill="#111"/><path d="M458.57 278.60L460.20 276.75L461.83 278.60L460.20 280.45Z" fill="#111"/><path d="M473.77 278.60L475.40 276.75L477.03 278.60L475.40 280.45Z" fill="#111"/><path d="M478.17 278.60L479.80 276.75L481.43 278.60L479.80 280.45Z" fill="#111"/></g><rect x="287.60" y="214.00" width="228.80" height="135.00" fill="none" stroke="#1e1e1e" stroke-width="1.05"/><path d="M288.54 349.00v-1.00M288.54 214.00v1.00M293.50 349.00v-1.50M293.50 214.00v1.50M298.46 349.00v-1.00M298.46 214.00v1.00M303.42 349.00v-1.00M303.42 214.00v1.00M308.39 349.00v-1.00M308.39 214.00v1.00M313.35 349.00v-1.00M313.35 214.00v1.00M318.31 349.00v-1.50M318.31 214.00v1.50M323.27 349.00v-1.00M323.27 214.00v1.00M328.23 349.00v-1.00M328.23 214.00v1.00M333.20 349.00v-1.00M333.20 214.00v1.00M338.16 349.00v-1.00M338.16 214.00v1.00M343.12 349.00v-1.50M343.12 214.00v1.50M348.08 349.00v-1.00M348.08 214.00v1.00M353.04 349.00v-1.00M353.04 214.00v1.00M358.01 349.00v-1.00M358.01 214.00v1.00M362.97 349.00v-1.00M362.97 214.00v1.00M367.93 349.00v-1.50M367.93 214.00v1.50M372.89 349.00v-1.00M372.89 214.00v1.00M377.85 349.00v-1.00M377.85 214.00v1.00M382.82 349.00v-1.00M382.82 214.00v1.00M387.78 349.00v-1.00M387.78 214.00v1.00M392.74 349.00v-1.50M392.74 214.00v1.50M397.70 349.00v-1.00M397.70 214.00v1.00M402.66 349.00v-1.00M402.66 214.00v1.00M407.63 349.00v-1.00M407.63 214.00v1.00M412.59 349.00v-1.00M412.59 214.00v1.00M417.55 349.00v-1.50M417.55 214.00v1.50M422.51 349.00v-1.00M422.51 214.00v1.00M427.47 349.00v-1.00M427.47 214.00v1.00M432.44 349.00v-1.00M432.44 214.00v1.00M437.40 349.00v-1.00M437.40 214.00v1.00M442.36 349.00v-1.50M442.36 214.00v1.50M447.32 349.00v-1.00M447.32 214.00v1.00M452.28 349.00v-1.00M452.28 214.00v1.00M457.25 349.00v-1.00M457.25 214.00v1.00M462.21 349.00v-1.00M462.21 214.00v1.00M467.17 349.00v-1.50M467.17 214.00v1.50M472.13 349.00v-1.00M472.13 214.00v1.00M477.09 349.00v-1.00M477.09 214.00v1.00M482.06 349.00v-1.00M482.06 214.00v1.00M487.02 349.00v-1.00M487.02 214.00v1.00M491.98 349.00v-1.50M491.98 214.00v1.50M496.94 349.00v-1.00M496.94 214.00v1.00M501.90 349.00v-1.00M501.90 214.00v1.00M506.87 349.00v-1.00M506.87 214.00v1.00M511.83 349.00v-1.00M511.83 214.00v1.00M287.60 345.62h1.00M516.40 345.62h-1.00M287.60 342.25h1.00M516.40 342.25h-1.00M287.60 338.88h1.00M516.40 338.88h-1.00M287.60 335.50h1.50M516.40 335.50h-1.50M287.60 332.12h1.00M516.40 332.12h-1.00M287.60 328.75h1.00M516.40 328.75h-1.00M287.60 325.38h1.00M516.40 325.38h-1.00M287.60 322.00h1.50M516.40 322.00h-1.50M287.60 318.62h1.00M516.40 318.62h-1.00M287.60 315.25h1.00M516.40 315.25h-1.00M287.60 311.88h1.00M516.40 311.88h-1.00M287.60 308.50h1.50M516.40 308.50h-1.50M287.60 305.12h1.00M516.40 305.12h-1.00M287.60 301.75h1.00M516.40 301.75h-1.00M287.60 298.38h1.00M516.40 298.38h-1.00M287.60 295.00h1.50M516.40 295.00h-1.50M287.60 291.62h1.00M516.40 291.62h-1.00M287.60 288.25h1.00M516.40 288.25h-1.00M287.60 284.88h1.00M516.40 284.88h-1.00M287.60 281.50h1.50M516.40 281.50h-1.50M287.60 278.12h1.00M516.40 278.12h-1.00M287.60 274.75h1.00M516.40 274.75h-1.00M287.60 271.38h1.00M516.40 271.38h-1.00M287.60 268.00h1.50M516.40 268.00h-1.50M287.60 264.62h1.00M516.40 264.62h-1.00M287.60 261.25h1.00M516.40 261.25h-1.00M287.60 257.88h1.00M516.40 257.88h-1.00M287.60 254.50h1.50M516.40 254.50h-1.50M287.60 251.12h1.00M516.40 251.12h-1.00M287.60 247.75h1.00M516.40 247.75h-1.00M287.60 244.38h1.00M516.40 244.38h-1.00M287.60 241.00h1.50M516.40 241.00h-1.50M287.60 237.62h1.00M516.40 237.62h-1.00M287.60 234.25h1.00M516.40 234.25h-1.00M287.60 230.88h1.00M516.40 230.88h-1.00M287.60 227.50h1.50M516.40 227.50h-1.50M287.60 224.12h1.00M516.40 224.12h-1.00M287.60 220.75h1.00M516.40 220.75h-1.00M287.60 217.38h1.00M516.40 217.38h-1.00" stroke="#222" stroke-width="0.9" fill="none"/><text transform="translate(283.40,350.56) scale(0.86,1)" font-size="5.8" text-anchor="end" font-weight="normal" fill="#000" stroke="#000" stroke-width="0.14">0,0</text><text transform="translate(283.40,337.06) scale(0.86,1)" font-size="5.8" text-anchor="end" font-weight="normal" fill="#000" stroke="#000" stroke-width="0.14">0,1</text><text transform="translate(283.40,323.56) scale(0.86,1)" font-size="5.8" text-anchor="end" font-weight="normal" fill="#000" stroke="#000" stroke-width="0.14">0,2</text><text transform="translate(283.40,310.06) scale(0.86,1)" font-size="5.8" text-anchor="end" font-weight="normal" fill="#000" stroke="#000" stroke-width="0.14">0,3</text><text transform="translate(283.40,296.56) scale(0.86,1)" font-size="5.8" text-anchor="end" font-weight="normal" fill="#000" stroke="#000" stroke-width="0.14">0,4</text><text transform="translate(283.40,283.06) scale(0.86,1)" font-size="5.8" text-anchor="end" font-weight="normal" fill="#000" stroke="#000" stroke-width="0.14">0,5</text><text transform="translate(283.40,269.56) scale(0.86,1)" font-size="5.8" text-anchor="end" font-weight="normal" fill="#000" stroke="#000" stroke-width="0.14">0,6</text><text transform="translate(283.40,256.06) scale(0.86,1)" font-size="5.8" text-anchor="end" font-weight="normal" fill="#000" stroke="#000" stroke-width="0.14">0,7</text><text transform="translate(283.40,242.56) scale(0.86,1)" font-size="5.8" text-anchor="end" font-weight="normal" fill="#000" stroke="#000" stroke-width="0.14">0,8</text><text transform="translate(283.40,229.06) scale(0.86,1)" font-size="5.8" text-anchor="end" font-weight="normal" fill="#000" stroke="#000" stroke-width="0.14">0,9</text><text transform="translate(283.40,215.56) scale(0.86,1)" font-size="5.8" text-anchor="end" font-weight="normal" fill="#000" stroke="#000" stroke-width="0.14">1,0</text><text transform="translate(292.80,357.16) scale(0.86,1)" font-size="5.8" text-anchor="middle" font-weight="normal" fill="#000" stroke="#000" stroke-width="0.14">0</text><text transform="translate(317.61,357.16) scale(0.86,1)" font-size="5.8" text-anchor="middle" font-weight="normal" fill="#000" stroke="#000" stroke-width="0.14">100</text><text transform="translate(342.42,357.16) scale(0.86,1)" font-size="5.8" text-anchor="middle" font-weight="normal" fill="#000" stroke="#000" stroke-width="0.14">200</text><text transform="translate(367.23,357.16) scale(0.86,1)" font-size="5.8" text-anchor="middle" font-weight="normal" fill="#000" stroke="#000" stroke-width="0.14">300</text><text transform="translate(392.04,357.16) scale(0.86,1)" font-size="5.8" text-anchor="middle" font-weight="normal" fill="#000" stroke="#000" stroke-width="0.14">400</text><text transform="translate(416.85,357.16) scale(0.86,1)" font-size="5.8" text-anchor="middle" font-weight="normal" fill="#000" stroke="#000" stroke-width="0.14">500</text><text transform="translate(441.66,357.16) scale(0.86,1)" font-size="5.8" text-anchor="middle" font-weight="normal" fill="#000" stroke="#000" stroke-width="0.14">600</text><text transform="translate(466.47,357.16) scale(0.86,1)" font-size="5.8" text-anchor="middle" font-weight="normal" fill="#000" stroke="#000" stroke-width="0.14">700</text><text transform="translate(491.28,357.16) scale(0.86,1)" font-size="5.8" text-anchor="middle" font-weight="normal" fill="#000" stroke="#000" stroke-width="0.14">800</text><text transform="translate(516.09,357.16) scale(0.86,1)" font-size="5.8" text-anchor="middle" font-weight="normal" fill="#000" stroke="#000" stroke-width="0.14">900</text><text transform="translate(398.40,368.22) scale(0.9,1)" font-size="5.4" text-anchor="middle" font-weight="normal" fill="#000" stroke="#000" stroke-width="0.14">Days</text><text transform="translate(268.70,285.60) rotate(-90) scale(1.0,1)" x="0" y="2.02" font-size="5.7" text-anchor="middle" fill="#000" stroke="#000" stroke-width="0.14">Probability</text><text transform="translate(395.70,204.32) scale(0.9,1)" font-size="5.4" text-anchor="middle" font-weight="normal" fill="#000" stroke="#000" stroke-width="0.14">Progression–free survival</text><text transform="translate(265.7,204.4) scale(1.06,1)" font-size="16.8" font-weight="bold" fill="#000">D</text><text transform="translate(478.70,234.62) scale(0.9,1)" font-size="5.4" text-anchor="middle" font-weight="normal" fill="#000" stroke="#000" stroke-width="0.14">high-grade NHL</text><text transform="translate(479.30,296.92) scale(0.9,1)" font-size="5.4" text-anchor="middle" font-weight="normal" fill="#000" stroke="#000" stroke-width="0.14">low-grade NHL</text><text transform="translate(397.40,289.22) scale(0.9,1)" font-size="5.4" text-anchor="middle" font-weight="normal" fill="#000" stroke="#000" stroke-width="0.14">MDS/AML</text></svg>
</body></html>
